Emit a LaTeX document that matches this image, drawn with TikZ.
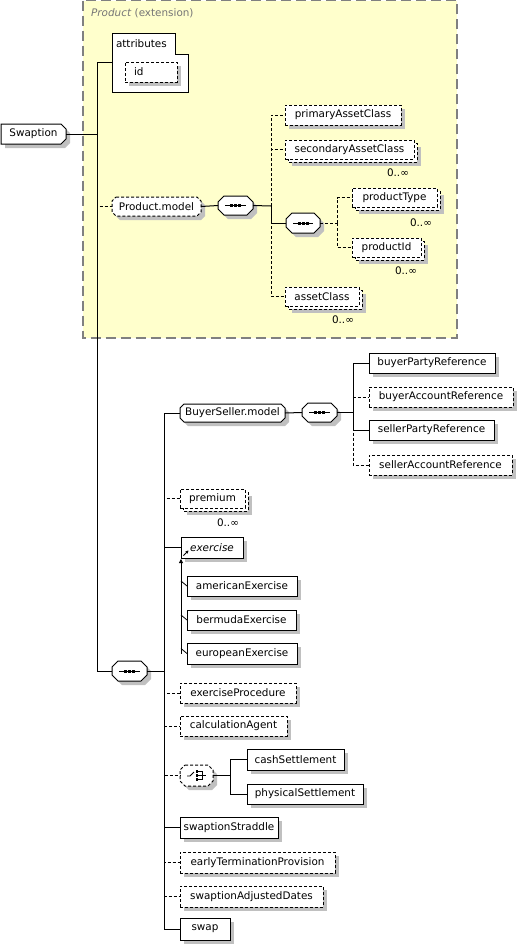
\documentclass[tikz,border=0pt]{standalone}
\usepackage{fontspec}
\setmainfont{DejaVu Sans}
\usetikzlibrary{arrows.meta}
\definecolor{shd}{RGB}{192,192,192}
\definecolor{prodyellow}{RGB}{255,255,204}
\definecolor{framegray}{RGB}{128,128,128}
\definecolor{labgray}{RGB}{118,118,118}
\tikzset{
  boxtext/.style={font=\fontsize{10.4}{12}\selectfont, inner sep=0pt, outer sep=0pt, rectangle},
  ln/.style={line width=1pt, draw=black},
  opt/.style={dash pattern=on 3pt off 2pt},
  conn/.style={line width=1pt, draw=black},
  optconn/.style={conn, dash pattern=on 3pt off 2pt},
  occ/.style={font=\fontsize{10.4}{12}\selectfont, inner sep=0pt},
}
% rectangle element box: name x1 y1 x2 y2 style text
\newcommand\RBox[7]{%
  \fill[shd] ({#2+4},{#3+4}) rectangle ({#4+4},{#5+4});
  \node[boxtext, ln, fill=white, #6, minimum width={#4pt-#2pt}, minimum height={#5pt-#3pt}] (#1) at ({(#2+#4)/2},{(#3+#5)/2}) {#7};}
% multi-occurrence element box
\newcommand\MBox[7]{%
  \fill[shd] ({#2+7},{#3+7}) rectangle ({#4+7},{#5+7});
  \draw[ln, fill=white, #6] ({#2+3},{#3+3}) rectangle ({#4+3},{#5+3});
  \node[boxtext, ln, fill=white, #6, minimum width={#4pt-#2pt}, minimum height={#5pt-#3pt}] (#1) at ({(#2+#4)/2},{(#3+#5)/2}) {#7};}
\newcommand\OctPath[5]{({#1+#5},#2) -- ({#3-#5},#2) -- (#3,{#2+#5}) -- (#3,{#4-#5}) -- ({#3-#5},#4) -- ({#1+#5},#4) -- (#1,{#4-#5}) -- (#1,{#2+#5}) -- cycle}
% octagon box: name x1 y1 x2 y2 chamfer style text
\newcommand\OBox[8]{%
  \fill[shd, shift={(4,4)}] \OctPath{#2}{#3}{#4}{#5}{#6};
  \draw[ln, fill=white, #7] \OctPath{#2}{#3}{#4}{#5}{#6};
  \node[boxtext, minimum width={#4pt-#2pt}, minimum height={#5pt-#3pt}] (#1) at ({(#2+#4)/2},{(#3+#5)/2}) {#8};}
% sequence compositor
\newcommand\SeqBox[5]{%
  \OBox{#1}{#2}{#3}{#4}{#5}{6}{}{}
  \draw[line width=1pt] ({#2+7},{(#3+#5)/2}) -- ({#4-7},{(#3+#5)/2});
  \foreach \dx in {-4,0,4} \fill ({(#2+#4)/2+\dx-1.5},{(#3+#5)/2-1.5}) rectangle ++(3,3);}
\begin{document}
\begin{tikzpicture}[x=1pt,y=-1pt]
\useasboundingbox (0,0) rectangle (518,946);
% Product extension region
\fill[prodyellow] (83,0.6) rectangle (457,338);
\draw[framegray, line width=1.2pt, dash pattern=on 10pt off 5pt] (83,0.6) rectangle (457,338);
\node[anchor=west, font=\fontsize{10.4}{12}\selectfont, text=labgray, inner sep=0pt] (prodlabel) at (91,13) {\textit{Product} (extension)};

% root
\fill[shd, shift={(4,4)}] (1,124) -- (61,124) -- (66,129) -- (66,139) -- (61,144) -- (1,144) -- cycle;
\draw[ln, fill=white] (1,124) -- (61,124) -- (66,129) -- (66,139) -- (61,144) -- (1,144) -- cycle;
\node[boxtext, minimum width=65pt, minimum height=20pt] (swaption) at (33.5,134) {Swaption};

% attributes
\draw[ln, fill=white] (112,33) -- (175,33) -- (175,54) -- (188,54) -- (188,92) -- (112,92) -- cycle;
\node[boxtext, minimum width=76pt, minimum height=59pt] (attr) at (150,62.5) {};
\node[boxtext, anchor=west] (attrlabel) at (116,43.5) {attributes};
\RBox{id}{125}{62}{177}{82}{opt, text width=34pt, align=left}{id}

% Product.model
\OBox{pm}{112}{197}{201}{216}{4}{opt}{Product.model}
\SeqBox{seqA}{218}{196}{253}{215}
\RBox{pac}{285}{105}{401}{125}{opt}{primaryAssetClass}
\MBox{sac}{285}{140}{414}{159}{opt}{secondaryAssetClass}
\node[occ] (occsac) at (398,173) {0..∞};
\SeqBox{seqB}{286}{213}{320}{233}
\MBox{ptype}{352}{188}{437}{207}{opt}{productType}
\node[occ] (occpt) at (421,223) {0..∞};
\MBox{pid}{352}{238}{421}{257}{opt}{productId}
\node[occ] (occpid) at (406,271) {0..∞};
\MBox{ac}{285}{287}{359}{306}{opt}{assetClass}
\node[occ] (occac) at (343,320) {0..∞};

% main sequence
\SeqBox{seqC}{112}{661}{147}{681}
\OBox{bsm}{180}{404}{285}{422}{4}{}{BuyerSeller.model}
\SeqBox{seqD}{302}{403}{337}{422}
\RBox{bpr}{369}{353}{495}{373}{}{buyerPartyReference}
\RBox{bar}{369}{387}{513}{407}{opt}{buyerAccountReference}
\RBox{spr}{369}{420}{494}{440}{}{sellerPartyReference}
\RBox{sar}{369}{455}{512}{475}{opt}{sellerAccountReference}
\MBox{prem}{180}{489}{245}{508}{opt}{premium}
\node[occ] (occprem) at (228,523) {0..∞};
\RBox{exer}{181}{537}{243}{558}{}{\itshape exercise}
\draw[line width=0.9pt, -{Stealth[length=3pt,width=3.2pt]}] (183.5,555.5) -- (188.5,550.5);
\RBox{ame}{187}{576}{297}{596}{}{americanExercise}
\RBox{ber}{187}{610}{296}{630}{}{bermudaExercise}
\RBox{eur}{187}{643}{297}{664}{}{europeanExercise}
\RBox{exp}{180}{683}{296}{703}{opt}{exerciseProcedure}
\RBox{cag}{180}{716}{287}{736}{opt}{calculationAgent}
% choice
\OBox{chc}{180}{765}{213}{786}{5}{opt}{}
\draw[line width=0.9pt] (187,776) -- (190,776) -- (194,772);
\foreach \yy in {771.5,775.5,779.5} \fill (195.6,\yy-1.4) rectangle ++(2.8,2.8);
\draw[line width=0.9pt] (198.2,771.5) -- (202.5,771.5) -- (202.5,779.5) -- (198.2,779.5) (198.2,775.5) -- (205.5,775.5);
\RBox{cash}{247}{749}{344}{770}{}{cashSettlement}
\RBox{phys}{247}{784}{363}{804}{}{physicalSettlement}
\RBox{strad}{180}{817}{278}{838}{}{swaptionStraddle}
\RBox{etp}{180}{852}{335}{873}{opt}{earlyTerminationProvision}
\RBox{sad}{180}{886}{323}{907}{opt}{swaptionAdjustedDates}
\RBox{swap}{180}{918}{230}{940}{}{swap}

% bus coordinates
\coordinate (bus0) at (97,134);
\coordinate (bus1) at (271,206);
\coordinate (bus2) at (337,223);
\coordinate (bus4) at (164,671);
\coordinate (bus5) at (353,412.5);
\coordinate (bus6) at (230,775.5);
\coordinate (subtop) at (181,559);
\coordinate (subbot) at (181,653.5);
\coordinate (s1) at (181,581);
\coordinate (s2) at (181,615);
\coordinate (s3) at (181,648.5);

% connectors: optional first
\draw[optconn] (bus0) |- (pm.west);
\draw[optconn] (bus1) |- (pac.west);
\draw[optconn] (bus1) |- (sac.west);
\draw[optconn] (bus1) |- (ac.west);
\draw[optconn] (seqB.east) -- (bus2);
\draw[optconn] (bus2) |- (ptype.west);
\draw[optconn] (bus2) |- (pid.west);
\draw[optconn] (bus5) |- (bar.west);
\draw[optconn] (bus5) |- (sar.west);
\draw[optconn] (bus4) |- (prem.west);
\draw[optconn] (bus4) |- (exp.west);
\draw[optconn] (bus4) |- (cag.west);
\draw[optconn] (bus4) |- (chc.west);
\draw[optconn] (bus4) |- (etp.west);
\draw[optconn] (bus4) |- (sad.west);
% required
\draw[conn] (swaption.east) -- (bus0);
\draw[conn] (bus0) |- (attr.west);
\draw[conn] (bus0) |- (seqC.west);
\draw[conn] (pm.east) -- (seqA.west);
\draw[conn] (seqA.east) -- (bus1);
\draw[conn] (bus1) |- (seqB.west);
\draw[conn] (seqC.east) -- (bus4);
\draw[conn] (bus4) |- (bsm.west);
\draw[conn] (bsm.east) -- (seqD.west);
\draw[conn] (seqD.east) -- (bus5);
\draw[conn] (bus5) |- (bpr.west);
\draw[conn] (bus5) |- (spr.west);
\draw[conn] (bus4) |- (exer.west);
\draw[conn] (bus4) |- (strad.west);
\draw[conn] (bus4) |- (swap.west);
\draw[conn] (chc.east) -- (bus6);
\draw[conn] (bus6) |- (cash.west);
\draw[conn] (bus6) |- (phys.west);
% substitution group
\draw[line width=0.8pt, -{Triangle[length=4pt,width=4pt]}] (subbot) -- (subtop);
\draw[line width=0.8pt] (s1) -- (ame.west);
\draw[line width=0.8pt] (s2) -- (ber.west);
\draw[line width=0.8pt] (s3) -- (eur.west);
\end{tikzpicture}
\end{document}
